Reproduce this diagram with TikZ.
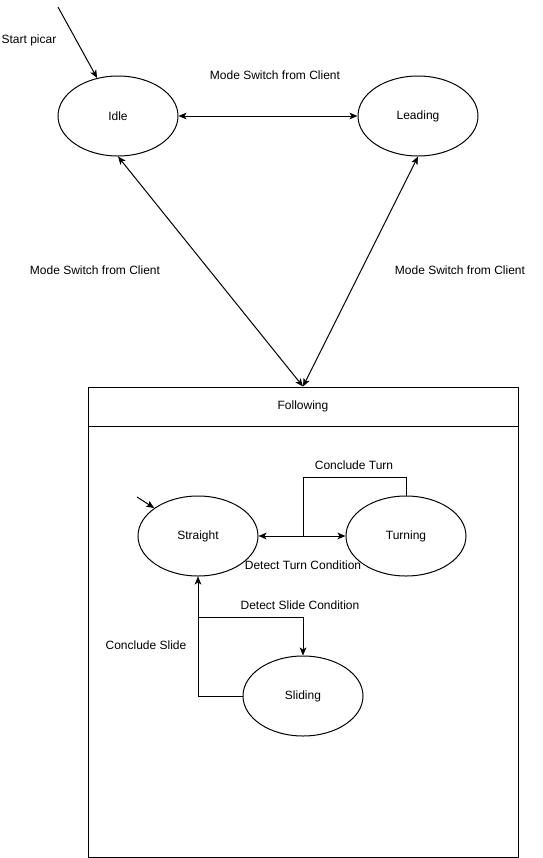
\documentclass[tikz,border=0pt]{standalone}
\usepackage{fontspec}
\setmainfont{Liberation Sans}
\usetikzlibrary{arrows.meta,shapes.geometric,calc}
\begin{document}
\begin{tikzpicture}[x=0.75pt,y=-0.75pt,
  every node/.style={font=\fontsize{9pt}{11pt}\selectfont},
  state/.style={ellipse,draw,line width=0.75pt,minimum width=90pt,minimum height=60pt,inner sep=0pt},
  lbl/.style={inner sep=0pt},
  conn/.style={line width=0.75pt},
  tip/.style={-{Stealth[length=6pt,width=5pt,inset=1.5pt]}},
  tips/.style={{Stealth[length=6pt,width=5pt,inset=1.5pt]}-{Stealth[length=6pt,width=5pt,inset=1.5pt]}}]
\useasboundingbox (0,0) rectangle (543,858);
% states
\node[state] (idle) at (118,116) {Idle};
\node[state] (leading) at (418,116) {Leading};
\node[draw,line width=0.75pt,minimum width=322.5pt,minimum height=352.5pt,inner sep=0pt] (follow) at (303,622) {};
\node[lbl] (followlbl) at (303,406) {Following};
\draw[conn] ($(follow.north west)+(0,40)$) coordinate (hl) -- ($(follow.north east)+(0,40)$) coordinate (hr);
\node[state] (straight) at (198,536) {Straight};
\node[state] (turning) at (406,536) {Turning};
\node[state] (sliding) at (303,696) {Sliding};
% coordinates
\coordinate (start) at (58,7);
\coordinate (sstart) at (137,497);
\coordinate (ct1) at (303,477);
\coordinate (ct2) at (303,537);
\coordinate (ds) at (198,617);
% connectors
\draw[conn,tip] (start) -- (idle);
\draw[conn,tips] (idle.east) -- (leading.west);
\draw[conn,tips] (idle.south) -- (follow.north);
\draw[conn,tips] (leading.south) -- (follow.north);
\draw[conn,tip] (sstart) -- (straight);
\draw[conn,tips] (straight.east) -- (turning.west);
\draw[conn] (turning.north) |- (ct1) -- (ct2);
\draw[conn,tip] (ds) -| (sliding.north);
\draw[conn,tip] (sliding.west) -| (straight.south);
% labels
\node[lbl] (l1) at (29,40) {Start picar};
\node[lbl] (l2) at (275,75) {Mode Switch from Client};
\node[lbl] (l3) at (95,270) {Mode Switch from Client};
\node[lbl] (l4) at (460,270) {Mode Switch from Client};
\node[lbl] (l5) at (354,465) {Conclude Turn};
\node[lbl] (l6) at (303,565) {Detect Turn Condition};
\node[lbl] (l7) at (300,605) {Detect Slide Condition};
\node[lbl] (l8) at (146,645) {Conclude Slide};
\end{tikzpicture}
\end{document}
